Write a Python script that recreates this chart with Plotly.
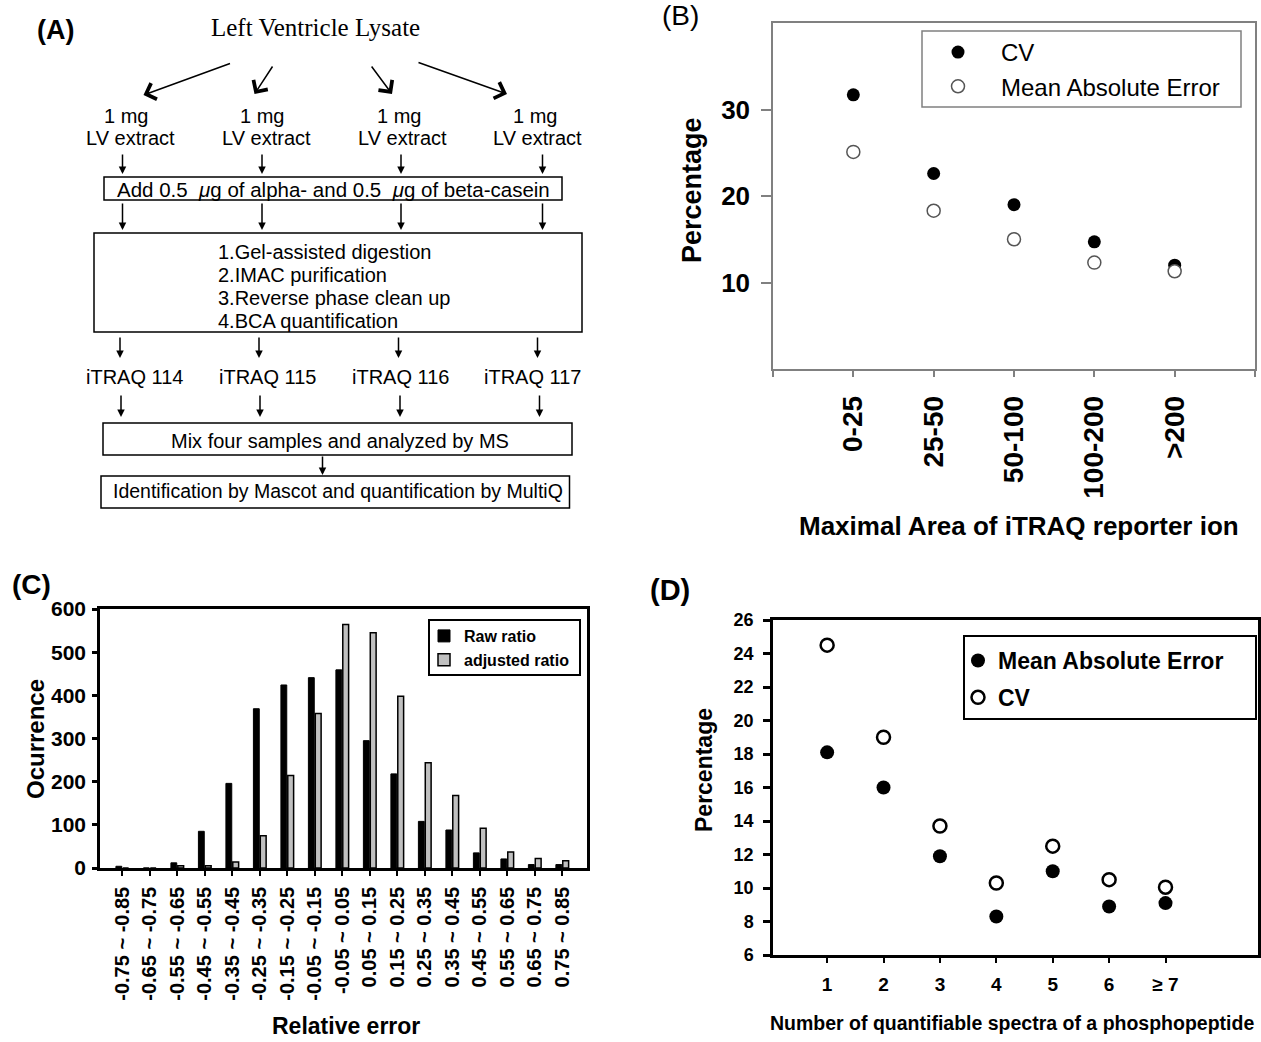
import plotly.graph_objects as go

W, H = 1261, 1042

# ---------------- data ----------------
b_categories = ["0-25", "25-50", "50-100", "100-200", ">200"]
b_cv = [31.7, 22.6, 19.0, 14.7, 12.0]
b_mae = [25.1, 18.3, 15.0, 12.3, 11.3]
b_yticks = [10, 20, 30]

c_categories = ["-0.75 ~ -0.85", "-0.65 ~ -0.75", "-0.55 ~ -0.65", "-0.45 ~ -0.55",
                "-0.35 ~ -0.45", "-0.25 ~ -0.35", "-0.15 ~ -0.25", "-0.05 ~ -0.15",
                "-0.05 ~ 0.05", "0.05 ~ 0.15", "0.15 ~ 0.25", "0.25 ~ 0.35",
                "0.35 ~ 0.45", "0.45 ~ 0.55", "0.55 ~ 0.65", "0.65 ~ 0.75", "0.75 ~ 0.85"]
c_raw = [4, 0, 12, 85, 196, 369, 424, 441, 459, 295, 218, 108, 88, 35, 21, 8, 8]
c_adjusted = [0, 0, 5, 5, 14, 75, 214, 358, 564, 545, 398, 244, 168, 92, 37, 22, 17]
c_yticks = [0, 100, 200, 300, 400, 500, 600]

d_categories = ["1", "2", "3", "4", "5", "6", "\u2265 7"]
d_mae = [18.1, 16.0, 11.9, 8.3, 11.0, 8.9, 9.1]
d_cv = [24.5, 19.0, 13.7, 10.3, 12.5, 10.5, 10.05]
d_yticks = [6, 8, 10, 12, 14, 16, 18, 20, 22, 24, 26]

a_title = "Left Ventricle Lysate"
a_amount = ["1 mg", "1 mg", "1 mg", "1 mg"]
a_extract = ["LV extract", "LV extract", "LV extract", "LV extract"]
a_casein = "Add 0.5  <i>\u03bc</i>g of alpha- and 0.5  <i>\u03bc</i>g of beta-casein"
a_steps = ["1.Gel-assisted digestion", "2.IMAC purification",
           "3.Reverse phase clean up", "4.BCA quantification"]
a_labels = ["iTRAQ 114", "iTRAQ 115", "iTRAQ 116", "iTRAQ 117"]
a_mix = "Mix four samples and analyzed by MS"
a_ident = "Identification by Mascot and quantification by MultiQ"

ARIAL = "Arial, Liberation Sans, sans-serif"
SERIF = "Times New Roman, Liberation Serif, serif"


def px(x):
    return x / W


def py(y):
    return 1 - y / H


fig = go.Figure()

# ---------------- panel B ----------------
b_x = [i + 1 for i in range(len(b_categories))]
fig.add_trace(go.Scatter(x=b_x, y=b_cv, mode="markers", name="CV",
                         marker=dict(size=13, color="black"),
                         xaxis="x", yaxis="y", legend="legend"))
fig.add_trace(go.Scatter(x=b_x, y=b_mae, mode="markers", name="Mean Absolute Error",
                         marker=dict(size=13, color="white", line=dict(color="#555555", width=1.5)),
                         xaxis="x", yaxis="y", legend="legend"))

# ---------------- panel C ----------------
fig.add_trace(go.Bar(x=c_categories, y=c_raw, name="Raw ratio",
                     marker=dict(color="black", line=dict(color="black", width=1)),
                     xaxis="x2", yaxis="y2", legend="legend2"))
fig.add_trace(go.Bar(x=c_categories, y=c_adjusted, name="adjusted ratio",
                     marker=dict(color="#c0c0c0", line=dict(color="black", width=1.5)),
                     xaxis="x2", yaxis="y2", legend="legend2"))

# ---------------- panel D ----------------
fig.add_trace(go.Scatter(x=d_categories, y=d_mae, mode="markers", name="Mean Absolute Error",
                         marker=dict(size=14, color="black"), legendgroup="d1",
                         xaxis="x3", yaxis="y3", legend="legend3"))
fig.add_trace(go.Scatter(x=d_categories, y=d_cv, mode="markers", name="CV",
                         marker=dict(size=13, color="white", line=dict(color="black", width=2.5)),
                         legendgroup="d2", xaxis="x3", yaxis="y3", legend="legend3"))

GRAY = "#808080"


def bfont(size, family=ARIAL):
    return dict(family=family, size=size, color="black", weight="bold")


common = dict(showgrid=False, zeroline=False, automargin=False, showline=True, mirror=True)

fig.update_layout(
    width=W, height=H, margin=dict(l=0, r=0, t=0, b=0, autoexpand=False),
    paper_bgcolor="white", plot_bgcolor="white",
    barmode="group", bargap=0.5, bargroupgap=0.15,
    showlegend=True,
    xaxis=dict(domain=[px(773), px(1255)], anchor="y", range=[0, len(b_categories) + 1],
               tickmode="array", tickvals=list(range(0, len(b_categories) + 2)),
               ticktext=[""] + b_categories + [""], tickangle=-90,
               ticks="outside", ticklen=6, tickwidth=1.5, tickcolor=GRAY,
               linecolor=GRAY, linewidth=1.5,
               tickfont=bfont(28), ticklabelstandoff=8, **common),
    yaxis=dict(domain=[py(369), py(23)], anchor="x", range=[0, 40],
               tickmode="array", tickvals=b_yticks,
               ticks="outside", ticklen=10, tickwidth=1.5, tickcolor=GRAY,
               linecolor=GRAY, linewidth=1.5,
               tickfont=bfont(26), ticklabelstandoff=6, **common),
    xaxis2=dict(domain=[px(100), px(587)], anchor="y2", type="category", range=[-0.81, 16.9],
                tickangle=-90, ticks="outside", ticklen=5, tickwidth=2, tickcolor="black",
                linecolor="black", linewidth=2.5,
                tickfont=bfont(20), ticklabelstandoff=3, **common),
    yaxis2=dict(domain=[py(868), py(609)], anchor="x2", range=[0, 600],
                tickmode="array", tickvals=c_yticks,
                ticks="outside", ticklen=5, tickwidth=2.5, tickcolor="black",
                linecolor="black", linewidth=2.5,
                tickfont=bfont(21), ticklabelstandoff=2, **common),
    xaxis3=dict(domain=[px(773), px(1258)], anchor="y3", type="category", range=[-0.96, 7.64],
                ticks="outside", ticklen=5, tickwidth=2, tickcolor="black",
                linecolor="black", linewidth=2.5,
                tickfont=bfont(19), ticklabelstandoff=5, **common),
    yaxis3=dict(domain=[py(955), py(620)], anchor="x3", range=[6, 26],
                tickmode="array", tickvals=d_yticks,
                ticks="outside", ticklen=7, tickwidth=2.5, tickcolor="black",
                linecolor="black", linewidth=2.5,
                tickfont=bfont(18), ticklabelstandoff=6, **common),
    legend=dict(x=px(915), y=py(30), xanchor="left", yanchor="top",
                bgcolor="rgba(0,0,0,0)", borderwidth=0, itemwidth=76,
                font=dict(family=ARIAL, size=24, color="black")),
    legend2=dict(x=px(424), y=py(619), xanchor="left", yanchor="top",
                 bgcolor="rgba(0,0,0,0)", borderwidth=0, itemwidth=30,
                 font=bfont(16)),
    legend3=dict(x=px(958), y=py(639), xanchor="left", yanchor="top",
                 bgcolor="rgba(0,0,0,0)", borderwidth=0, itemwidth=30, tracegroupgap=4,
                 font=bfont(23)),
)

# legend frames
fig.add_shape(type="rect", xref="paper", yref="paper", x0=px(922), y0=py(107), x1=px(1241), y1=py(31),
              line=dict(color=GRAY, width=1.5))
fig.add_shape(type="rect", xref="paper", yref="paper", x0=px(429), y0=py(675), x1=px(580), y1=py(620),
              line=dict(color="black", width=2))
fig.add_shape(type="rect", xref="paper", yref="paper", x0=px(964), y0=py(719), x1=px(1256), y1=py(636),
              line=dict(color="black", width=2))


def text(x, y, s, size, bold=False, family=ARIAL, xanchor="center", angle=0):
    fig.add_annotation(x=px(x), y=py(y), xref="paper", yref="paper", text=s, showarrow=False,
                       xanchor=xanchor, yanchor="middle", textangle=angle,
                       font=dict(family=family, size=size, color="black",
                                 weight="bold" if bold else "normal"))


def arrow(x0, y0, x1, y1, head=2, size=1.0):
    fig.add_annotation(x=px(x1), y=py(y1), xref="paper", yref="paper",
                       ax=x0 - x1, ay=y0 - y1, axref="pixel", ayref="pixel",
                       text="", showarrow=True, arrowhead=head, arrowsize=size,
                       arrowwidth=1.5, arrowcolor="black", standoff=0, startstandoff=0)


def box(x0, y0, x1, y1):
    fig.add_shape(type="rect", xref="paper", yref="paper", x0=px(x0), y0=py(y1), x1=px(x1), y1=py(y0),
                  line=dict(color="black", width=1.5))


# ---------------- panel A (flow chart) ----------------
text(315, 27.5, a_title, 25, family=SERIF)
for (tx, ty, hx, hy) in [(231.5, 63, 143.5, 95), (273.5, 65, 254.5, 94),
                         (370.5, 65, 392, 94), (417, 62, 507, 94)]:
    arrow(tx, ty, hx, hy, head=4, size=2.2)
for xa, xb, s1, s2 in zip([126, 262, 399, 534.5], [130, 266, 402, 537.5], a_amount, a_extract):
    text(xa, 116, s1, 20)
    text(xb, 138, s2, 20)
for xc in [122.5, 262, 401, 542.5]:
    arrow(xc, 153, xc, 174)
    arrow(xc, 202, xc, 230)
box(104, 177, 562, 200)
text(333, 189, a_casein, 20.5)
box(94, 233, 582, 332)
for yy, s in zip([252, 275, 298, 321.5], a_steps):
    text(216, yy, s, 20, xanchor="left")
for xc in [120, 259, 398.5, 537.5]:
    arrow(xc, 336, xc, 358)
for xc, s in zip([134.5, 267.5, 400, 532.5], a_labels):
    text(xc, 377, s, 20)
for xc in [121, 260, 400, 539.5]:
    arrow(xc, 394, xc, 417)
box(103, 423, 572, 455)
text(340, 441, a_mix, 20)
arrow(322.5, 455, 322.5, 475)
box(101, 476, 569.5, 508)
text(337.5, 491, a_ident, 19.5)

# ---------------- panel labels & axis titles ----------------
text(55, 30, "(A)", 27, bold=True)
text(680, 16, "(B)", 28)
text(31, 584, "(C)", 28, bold=True)
text(670, 590, "(D)", 29, bold=True)

text(692, 190, "Percentage", 27, bold=True, angle=-90)
text(1019, 526, "Maximal Area of iTRAQ reporter ion", 26, bold=True)
text(35, 739, "Ocurrence", 24, bold=True, angle=-90)
text(346, 1026, "Relative error", 23, bold=True)
text(704, 770, "Percentage", 23, bold=True, angle=-90)
text(1012, 1023, "Number of quantifiable spectra of a phosphopeptide", 19.5, bold=True)

fig.write_html("out.html", config={"displayModeBar": False},
               post_script="document.body.style.margin='0';document.body.style.overflow='hidden';")
